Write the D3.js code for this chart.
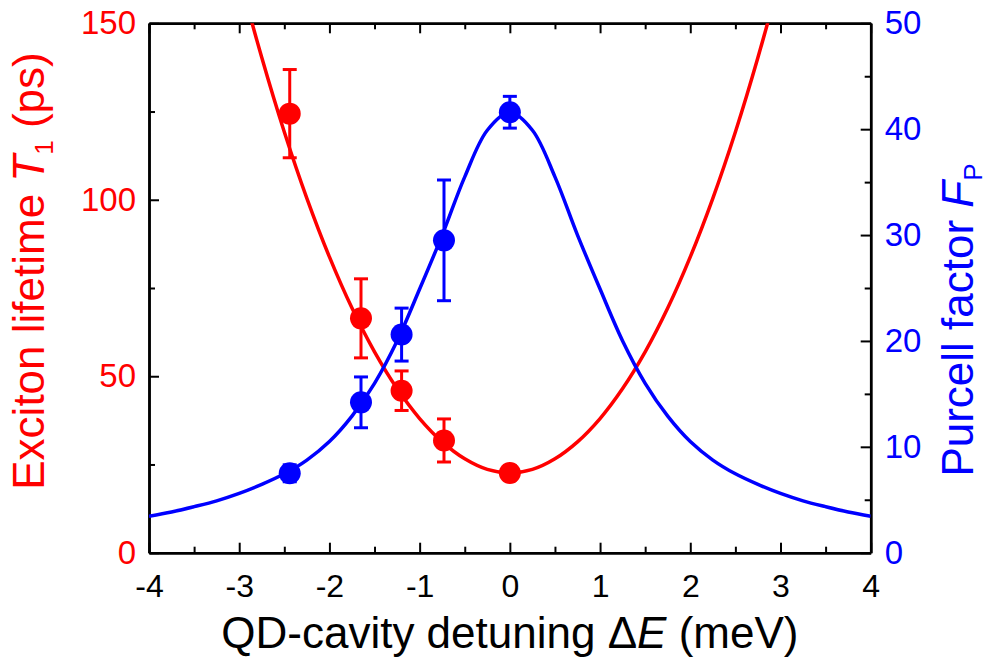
<!DOCTYPE html>
<html><head><meta charset="utf-8">
<script src="https://cdn.jsdelivr.net/npm/d3@7"></script>
<style>body{margin:0;background:#fff} text{font-family:"Liberation Sans", Arial, sans-serif}</style>
</head><body><svg id="c" width="990" height="661"></svg>
<script>
// measured data points
const pointDetuning = [-2.44, -1.65, -1.2, -0.73, 0];
const lifetime = [124.4, 66.4, 45.9, 31.8, 22.6];
const lifetimeErr = [12.5, 11.2, 5.6, 6.1, 2];
const purcell = [7.5, 14.2, 20.6, 29.5, 41.6];
const purcellErr = [0.8, 2.4, 2.5, 5.7, 1.5];
// fit curves
const lifetimeFitDetuning = [-3.25,-3,-2.75,-2.5,-2.25,-2,-1.75,-1.5,-1.25,-1,-0.75,-0.5,-0.25,0,0.25,0.5,0.75,1,1.25,1.5,1.75,2,2.25,2.5,2.75,3,3.25];
const lifetimeFit = [189.5,163.7,140.3,119.2,100.4,83.8,69.3,56.9,46.5,38.0,31.4,26.6,23.6,22.6,23.6,26.6,31.4,38.0,46.5,56.9,69.3,83.8,100.4,119.2,140.3,163.7,189.5];
const purcellFitDetuning = [-4,-3.75,-3.5,-3.25,-3,-2.75,-2.5,-2.25,-2,-1.75,-1.5,-1.25,-1,-0.75,-0.5,-0.25,0,0.25,0.5,0.75,1,1.25,1.5,1.75,2,2.25,2.5,2.75,3,3.25,3.5,3.75,4];
const purcellFit = [3.45,3.85,4.35,4.9,5.6,6.45,7.45,8.75,10.5,12.9,16.0,20.0,24.9,30.0,35.5,39.9,41.6,39.9,35.5,30.0,24.9,20.0,16.0,12.9,10.5,8.75,7.45,6.45,5.6,4.9,4.35,3.85,3.45];
// axes
const xTicks = [-4,-3,-2,-1,0,1,2,3,4];
const xMinor = [-3.5,-2.5,-1.5,-0.5,0.5,1.5,2.5,3.5];
const leftTicks = [0,50,100,150];
const leftMinor = [25,75,125];
const rightTicks = [0,10,20,30,40,50];
const rightMinor = [5,15,25,35,45];

const RED = "#ff0000", BLUE = "#0000ff";
const L = 149, R = 870.7, T = 23.3, B = 552.7;
const svg = d3.select("#c");
const x = d3.scaleLinear().domain([-4,4]).range([L,R]);
const yL = d3.scaleLinear().domain([0,150]).range([B,T]);
const yR = d3.scaleLinear().domain([0,50]).range([B,T]);
const fmt = d => String(d);

svg.append("clipPath").attr("id","clip").append("rect")
  .attr("x",L).attr("y",T).attr("width",R-L).attr("height",B-T);

function styleAxis(g, color, fs){
  g.select(".domain").attr("stroke","#000").attr("stroke-width",2.5);
  g.selectAll(".tick line").attr("stroke","#000").attr("stroke-width",2);
  g.selectAll(".tick text").attr("fill",color).attr("font-size",fs)
    .attr("font-family",'"Liberation Sans", Arial, sans-serif');
}
// bottom
let g = svg.append("g").attr("transform",`translate(0,${B})`)
  .call(d3.axisBottom(x).tickValues(xTicks).tickSize(-10).tickSizeOuter(0).tickPadding(22).tickFormat(fmt));
styleAxis(g,"#000",32);
g = svg.append("g").attr("transform",`translate(0,${B})`)
  .call(d3.axisBottom(x).tickValues(xMinor).tickSize(-6).tickSizeOuter(0).tickFormat(""));
styleAxis(g,"#000",32);
// top
g = svg.append("g").attr("transform",`translate(0,${T})`)
  .call(d3.axisTop(x).tickValues(xTicks).tickSize(-10).tickSizeOuter(0).tickFormat(""));
styleAxis(g,"#000",32);
g = svg.append("g").attr("transform",`translate(0,${T})`)
  .call(d3.axisTop(x).tickValues(xMinor).tickSize(-6).tickSizeOuter(0).tickFormat(""));
styleAxis(g,"#000",32);
// left
g = svg.append("g").attr("transform",`translate(${L},0)`)
  .call(d3.axisLeft(yL).tickValues(leftTicks).tickSize(-10).tickSizeOuter(0).tickPadding(13).tickFormat(fmt));
styleAxis(g,RED,33);
g = svg.append("g").attr("transform",`translate(${L},0)`)
  .call(d3.axisLeft(yL).tickValues(leftMinor).tickSize(-6).tickSizeOuter(0).tickFormat(""));
styleAxis(g,RED,33);
// right
g = svg.append("g").attr("transform",`translate(${R},0)`)
  .call(d3.axisRight(yR).tickValues(rightTicks).tickSize(-10).tickSizeOuter(0).tickPadding(14).tickFormat(fmt));
styleAxis(g,BLUE,33);
g = svg.append("g").attr("transform",`translate(${R},0)`)
  .call(d3.axisRight(yR).tickValues(rightMinor).tickSize(-6).tickSizeOuter(0).tickFormat(""));
styleAxis(g,BLUE,33);

// curves
const plot = svg.append("g").attr("clip-path","url(#clip)");
const redLine = d3.line().x((d,i)=>x(lifetimeFitDetuning[i])).y(d=>yL(d)).curve(d3.curveCatmullRom.alpha(0.5));
const blueLine = d3.line().x((d,i)=>x(purcellFitDetuning[i])).y(d=>yR(d)).curve(d3.curveCatmullRom.alpha(0.5));
plot.append("path").attr("d",redLine(lifetimeFit)).attr("fill","none").attr("stroke",RED).attr("stroke-width",3.5);
plot.append("path").attr("d",blueLine(purcellFit)).attr("fill","none").attr("stroke",BLUE).attr("stroke-width",3.5);

function drawPoints(vals, errs, y, color){
  const gp = svg.append("g");
  vals.forEach((v,i)=>{
    const cx = x(pointDetuning[i]);
    const y1 = y(v+errs[i]), y2 = y(v-errs[i]);
    gp.append("line").attr("x1",cx).attr("x2",cx).attr("y1",y1).attr("y2",y2).attr("stroke",color).attr("stroke-width",3);
    [y1,y2].forEach(yy=>gp.append("line").attr("x1",cx-7).attr("x2",cx+7).attr("y1",yy).attr("y2",yy).attr("stroke",color).attr("stroke-width",3));
    gp.append("circle").attr("cx",cx).attr("cy",y(v)).attr("r",11).attr("fill",color);
  });
}
drawPoints(lifetime, lifetimeErr, yL, RED);
drawPoints(purcell, purcellErr, yR, BLUE);

// axis titles
const xl = svg.append("text").attr("x",(L+R)/2).attr("y",648).attr("text-anchor","middle").attr("font-size",44).attr("fill","#000");
xl.append("tspan").text("QD-cavity detuning Δ");
xl.append("tspan").attr("font-style","italic").text("E");
xl.append("tspan").text(" (meV)");

const ylab = svg.append("text").attr("transform","translate(44,271) rotate(-90)").attr("text-anchor","middle").attr("font-size",44).attr("fill",RED);
ylab.append("tspan").text("Exciton lifetime ");
ylab.append("tspan").attr("font-style","italic").text("T");
ylab.append("tspan").attr("font-size",26).attr("dy",9).text("1");
ylab.append("tspan").attr("dy",-9).text(" (ps)");

const rlab = svg.append("text").attr("transform","translate(973,320) rotate(-90)").attr("text-anchor","middle").attr("font-size",44).attr("fill",BLUE);
rlab.append("tspan").text("Purcell factor ");
rlab.append("tspan").attr("font-style","italic").text("F");
rlab.append("tspan").attr("font-size",26).attr("dy",9).text("P");
</script></body></html>
